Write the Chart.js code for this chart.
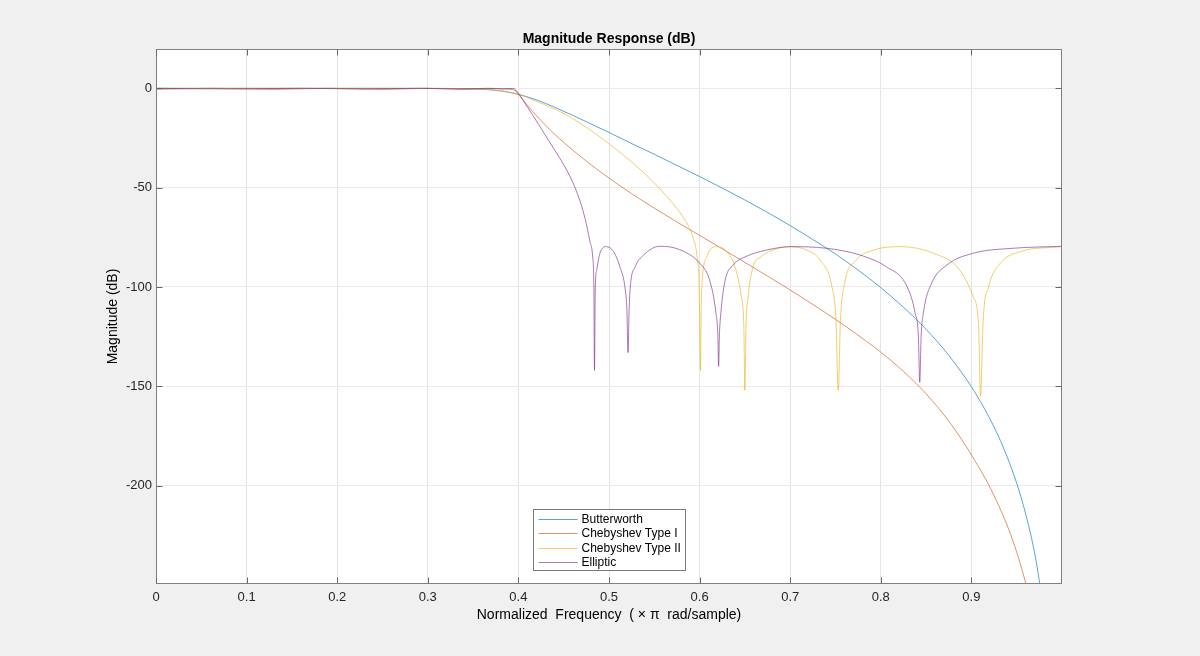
<!DOCTYPE html>
<html>
<head>
<meta charset="utf-8">
<script src="https://cdn.jsdelivr.net/npm/chart.js@4.4.1/dist/chart.umd.min.js"></script>
<style>
  html, body { margin: 0; padding: 0; background: #f0f0f0; }
  #wrap { width: 1200px; height: 656px; }
</style>
</head>
<body>
<div id="wrap"><canvas id="magChart" width="1200" height="656"></canvas></div>

<script>
  // axis ticks
  const xTicks = [0, 0.1, 0.2, 0.3, 0.4, 0.5, 0.6, 0.7, 0.8, 0.9];
  const xTickLabels = ['0', '0.1', '0.2', '0.3', '0.4', '0.5', '0.6', '0.7', '0.8', '0.9'];
  const yTicks = [0, -50, -100, -150, -200];
  const yTickLabels = ['0', '-50', '-100', '-150', '-200'];

  const seriesNames = ['Butterworth', 'Chebyshev Type I', 'Chebyshev Type II', 'Elliptic'];
  const seriesColors = ['#0072BD', '#D95319', '#EDB120', '#7E2F8E'];

  // Butterworth
  const butterX = [0, 0.1, 0.2, 0.25, 0.3, 0.33, 0.35, 0.37, 0.38, 0.39, 0.4, 0.41, 0.42, 0.43, 0.44, 0.45,
    0.46, 0.48, 0.5, 0.525, 0.55, 0.575, 0.6, 0.625, 0.65, 0.675, 0.7, 0.725, 0.75, 0.775, 0.8, 0.825, 0.85,
    0.875, 0.9, 0.91, 0.92, 0.93, 0.94, 0.95, 0.96, 0.97, 0.98];
  const butterY = [0, 0, 0, 0, -0.02, -0.09, -0.28, -0.79, -1.28, -2.0, -3.0, -4.3, -5.8, -7.6, -9.5, -11.6,
    -13.6, -17.9, -22.2, -27.8, -33.2, -38.8, -44.4, -50.2, -56.2, -62.5, -69.1, -76.1, -83.4, -91.5, -100.3,
    -110.2, -121.3, -134.4, -150.2, -157.7, -166, -175.3, -186.1, -198.8, -214.4, -234.4, -262.6];

  // Chebyshev Type I
  const cheby1X = [0, 0.06, 0.13, 0.19, 0.25, 0.3, 0.34, 0.37, 0.385, 0.396, 0.4, 0.41, 0.42, 0.43, 0.44,
    0.45, 0.46, 0.48, 0.5, 0.525, 0.55, 0.575, 0.6, 0.625, 0.65, 0.675, 0.7, 0.725, 0.75, 0.775, 0.8,
    0.825, 0.85, 0.875, 0.9, 0.925, 0.946, 0.961, 0.97];
  const cheby1Y = [-0.5, 0, -0.5, 0, -0.5, 0, -0.5, 0, -0.3, -1.0, -3, -8.6, -13.8, -18.6, -23.1,
    -27.2, -31.1, -38.4, -45.2, -53.0, -60.3, -67.3, -74.0, -80.8, -87.6, -94.5, -101.5, -108.8, -116.3, -124.3, -132.8,
    -142.5, -153.8, -167.5, -184.5, -205, -228, -251, -269];

  // Chebyshev Type II
  const cheby2X = [0, 0.1, 0.2, 0.3, 0.35, 0.38, 0.39, 0.4, 0.416, 0.435, 0.453, 0.475, 0.501, 0.527, 0.545,
    0.564, 0.575, 0.582, 0.589, 0.593, 0.597, 0.5995, 0.601, 0.6018, 0.603, 0.608, 0.619, 0.63, 0.639, 0.646,
    0.6488, 0.65, 0.6512, 0.6535, 0.659, 0.667, 0.681, 0.7, 0.718, 0.733, 0.746, 0.7505, 0.753, 0.7555,
    0.76, 0.773, 0.792, 0.821, 0.858, 0.887, 0.902, 0.908, 0.91, 0.913, 0.919, 0.932, 0.954, 1.0];
  const cheby2Y = [0, 0, 0, -0.03, -0.25, -1.2, -2.0, -3, -5.8, -9.4, -13.4, -19.6, -28.3, -37.8, -45.3,
    -54.5, -60.5, -65, -70.5, -75.5, -84, -100, -142, -110, -96.5, -84.7, -79.7, -82.2, -89.8, -105,
    -120, -152, -120, -105, -89.8, -85, -81.4, -79.7, -81.4, -86.4, -99.8, -116.6, -152, -116.6,
    -98.2, -86.4, -81.4, -79.7, -83, -91.4, -105, -120, -155, -116.6, -99.8, -88, -82.2, -79.7];

  // Elliptic
  const ellipX = [0, 0.08, 0.16, 0.23, 0.29, 0.335, 0.365, 0.383, 0.394, 0.4, 0.408, 0.4165, 0.424, 0.435,
    0.445, 0.4533, 0.4643, 0.4735, 0.479, 0.482, 0.4833, 0.484, 0.4848, 0.4865, 0.49, 0.497, 0.505, 0.512, 0.518,
    0.5198, 0.521, 0.5222, 0.5235, 0.529, 0.538, 0.556, 0.578, 0.6, 0.611, 0.618, 0.6202, 0.621, 0.6218,
    0.6235, 0.628, 0.637, 0.652, 0.674, 0.7, 0.74, 0.777, 0.806, 0.829, 0.838, 0.8415, 0.843, 0.8445,
    0.847, 0.856, 0.873, 0.902, 0.946, 1.0];
  const ellipY = [0, -0.3, 0, -0.3, 0, -0.3, 0, -0.3, 0, -2.5, -8, -14, -19.4, -27.4,
    -34.7, -41.1, -52, -65.4, -77.2, -85, -100, -142, -102, -91.4, -83, -79.7, -82.2, -89.8, -101.5,
    -112, -133, -112, -100, -89.8, -84, -79.5, -81.2, -88, -96.5, -113, -125, -140, -125,
    -113, -97, -89, -84.5, -81.4, -79.7, -80.5, -83.9, -89.8, -99.8, -113.3, -125, -148, -125,
    -113, -98.2, -88.9, -83, -80.5, -79.5];

  const FONT = "'Liberation Sans', Arial, Helvetica, sans-serif";

  function toPoints(xs, ys) {
    return xs.map((x, i) => ({x: x, y: ys[i]}));
  }

  const seriesData = [
    toPoints(butterX, butterY),
    toPoints(cheby1X, cheby1Y),
    toPoints(cheby2X, cheby2Y),
    toPoints(ellipX, ellipY)
  ];

  // backgrounds, axes box with inward ticks, legend inside the plot
  const boxPlugin = {
    id: 'box',
    beforeDraw(chart) {
      const {ctx, chartArea: a} = chart;
      ctx.save();
      ctx.fillStyle = '#f0f0f0';
      ctx.fillRect(0, 0, chart.width, chart.height);
      ctx.fillStyle = '#ffffff';
      ctx.fillRect(a.left, a.top, a.right - a.left, a.bottom - a.top);
      ctx.restore();
    },
    afterDatasetsDraw(chart) {
      const {ctx, chartArea: a} = chart;
      const xs = chart.scales.x, ys = chart.scales.y;
      const L = Math.round(a.left) + 0.5, R = Math.round(a.right) - 0.5;
      const T = Math.round(a.top) + 0.5, B = Math.round(a.bottom) - 0.5;
      ctx.save();
      ctx.lineWidth = 1;
      ctx.strokeStyle = '#808080';
      ctx.strokeRect(L, T, R - L, B - T);
      ctx.strokeStyle = '#666666';
      ctx.beginPath();
      xTicks.forEach((v) => {
        const p = Math.round(xs.getPixelForValue(v)) + 0.5;
        ctx.moveTo(p, B); ctx.lineTo(p, B - 6);
        ctx.moveTo(p, T); ctx.lineTo(p, T + 6);
      });
      yTicks.forEach((v) => {
        const p = Math.round(ys.getPixelForValue(v)) + 0.5;
        ctx.moveTo(L, p); ctx.lineTo(L + 6, p);
        ctx.moveTo(R, p); ctx.lineTo(R - 6, p);
      });
      ctx.stroke();

      // legend box
      ctx.font = '12px ' + FONT;
      let tw = 0;
      chart.data.datasets.forEach((ds) => { tw = Math.max(tw, ctx.measureText(ds.label).width); });
      const w = Math.round(5 + 39 + 4 + tw + 5), h = 61;
      const bx = Math.round((a.left + a.right) / 2 - w / 2) + 0.5;
      const by = Math.round(a.bottom - 14 - h) + 0.5;
      ctx.fillStyle = '#ffffff';
      ctx.fillRect(bx, by, w, h);
      ctx.strokeStyle = '#7a7a7a';
      ctx.lineWidth = 1;
      ctx.strokeRect(bx, by, w, h);
      chart.data.datasets.forEach((ds, i) => {
        const ry = Math.round(by + 9 + i * 14.5);
        ctx.strokeStyle = ds.borderColor;
        ctx.lineWidth = ds.borderWidth;
        ctx.beginPath();
        ctx.moveTo(bx + 5, ry + 0.5);
        ctx.lineTo(bx + 44, ry + 0.5);
        ctx.stroke();
        ctx.fillStyle = '#000000';
        ctx.textBaseline = 'middle';
        ctx.textAlign = 'left';
        ctx.fillText(ds.label, bx + 48, ry + 0.5);
      });
      ctx.restore();
    }
  };

  new Chart('magChart', {
    type: 'line',
    data: {
      datasets: seriesNames.map((name, i) => ({
        label: name,
        data: seriesData[i],
        borderColor: seriesColors[i],
        borderWidth: 0.65,
        pointRadius: 0,
        fill: false,
        cubicInterpolationMode: 'monotone',
        order: 4 - i
      }))
    },
    options: {
      responsive: false,
      animation: false,
      devicePixelRatio: 1,
      events: [],
      layout: {padding: {left: 0, right: 138, top: 0, bottom: 0}},
      scales: {
        x: {
          type: 'linear',
          min: 0,
          max: 1,
          afterBuildTicks: (s) => { s.ticks = xTicks.map((v) => ({value: v})); },
          afterFit: (s) => { s.height = 72; },
          grid: {color: '#e4e4e4', drawTicks: false},
          border: {display: false},
          ticks: {
            padding: 6,
            color: '#262626',
            font: {family: FONT, size: 13},
            maxRotation: 0,
            callback: (v, i) => xTickLabels[i]
          },
          title: {
            display: true,
            text: 'Normalized  Frequency  ( \u00d7 \u03c0  rad/sample)',
            color: '#000000',
            font: {family: FONT, size: 14},
            padding: {top: 0, bottom: 32.6}
          }
        },
        y: {
          type: 'linear',
          min: -249.5,
          max: 19.8,
          afterBuildTicks: (s) => { s.ticks = yTicks.map((v) => ({value: v})); },
          afterFit: (s) => { s.width = 156; },
          grid: {color: '#ebebeb', drawTicks: false},
          border: {display: false},
          ticks: {
            padding: 4,
            color: '#262626',
            font: {family: FONT, size: 13},
            callback: (v, i) => yTickLabels[i]
          },
          title: {
            display: true,
            text: 'Magnitude (dB)',
            color: '#000000',
            font: {family: FONT, size: 14},
            padding: {top: 104.6, bottom: 0}
          }
        }
      },
      plugins: {
        legend: {display: false},
        tooltip: {enabled: false},
        title: {
          display: true,
          fullSize: false,
          text: 'Magnitude Response (dB)',
          color: '#000000',
          font: {family: FONT, size: 14, weight: 'bold'},
          padding: {top: 31, bottom: 1.2}
        }
      }
    },
    plugins: [boxPlugin]
  });
</script>
</body>
</html>
